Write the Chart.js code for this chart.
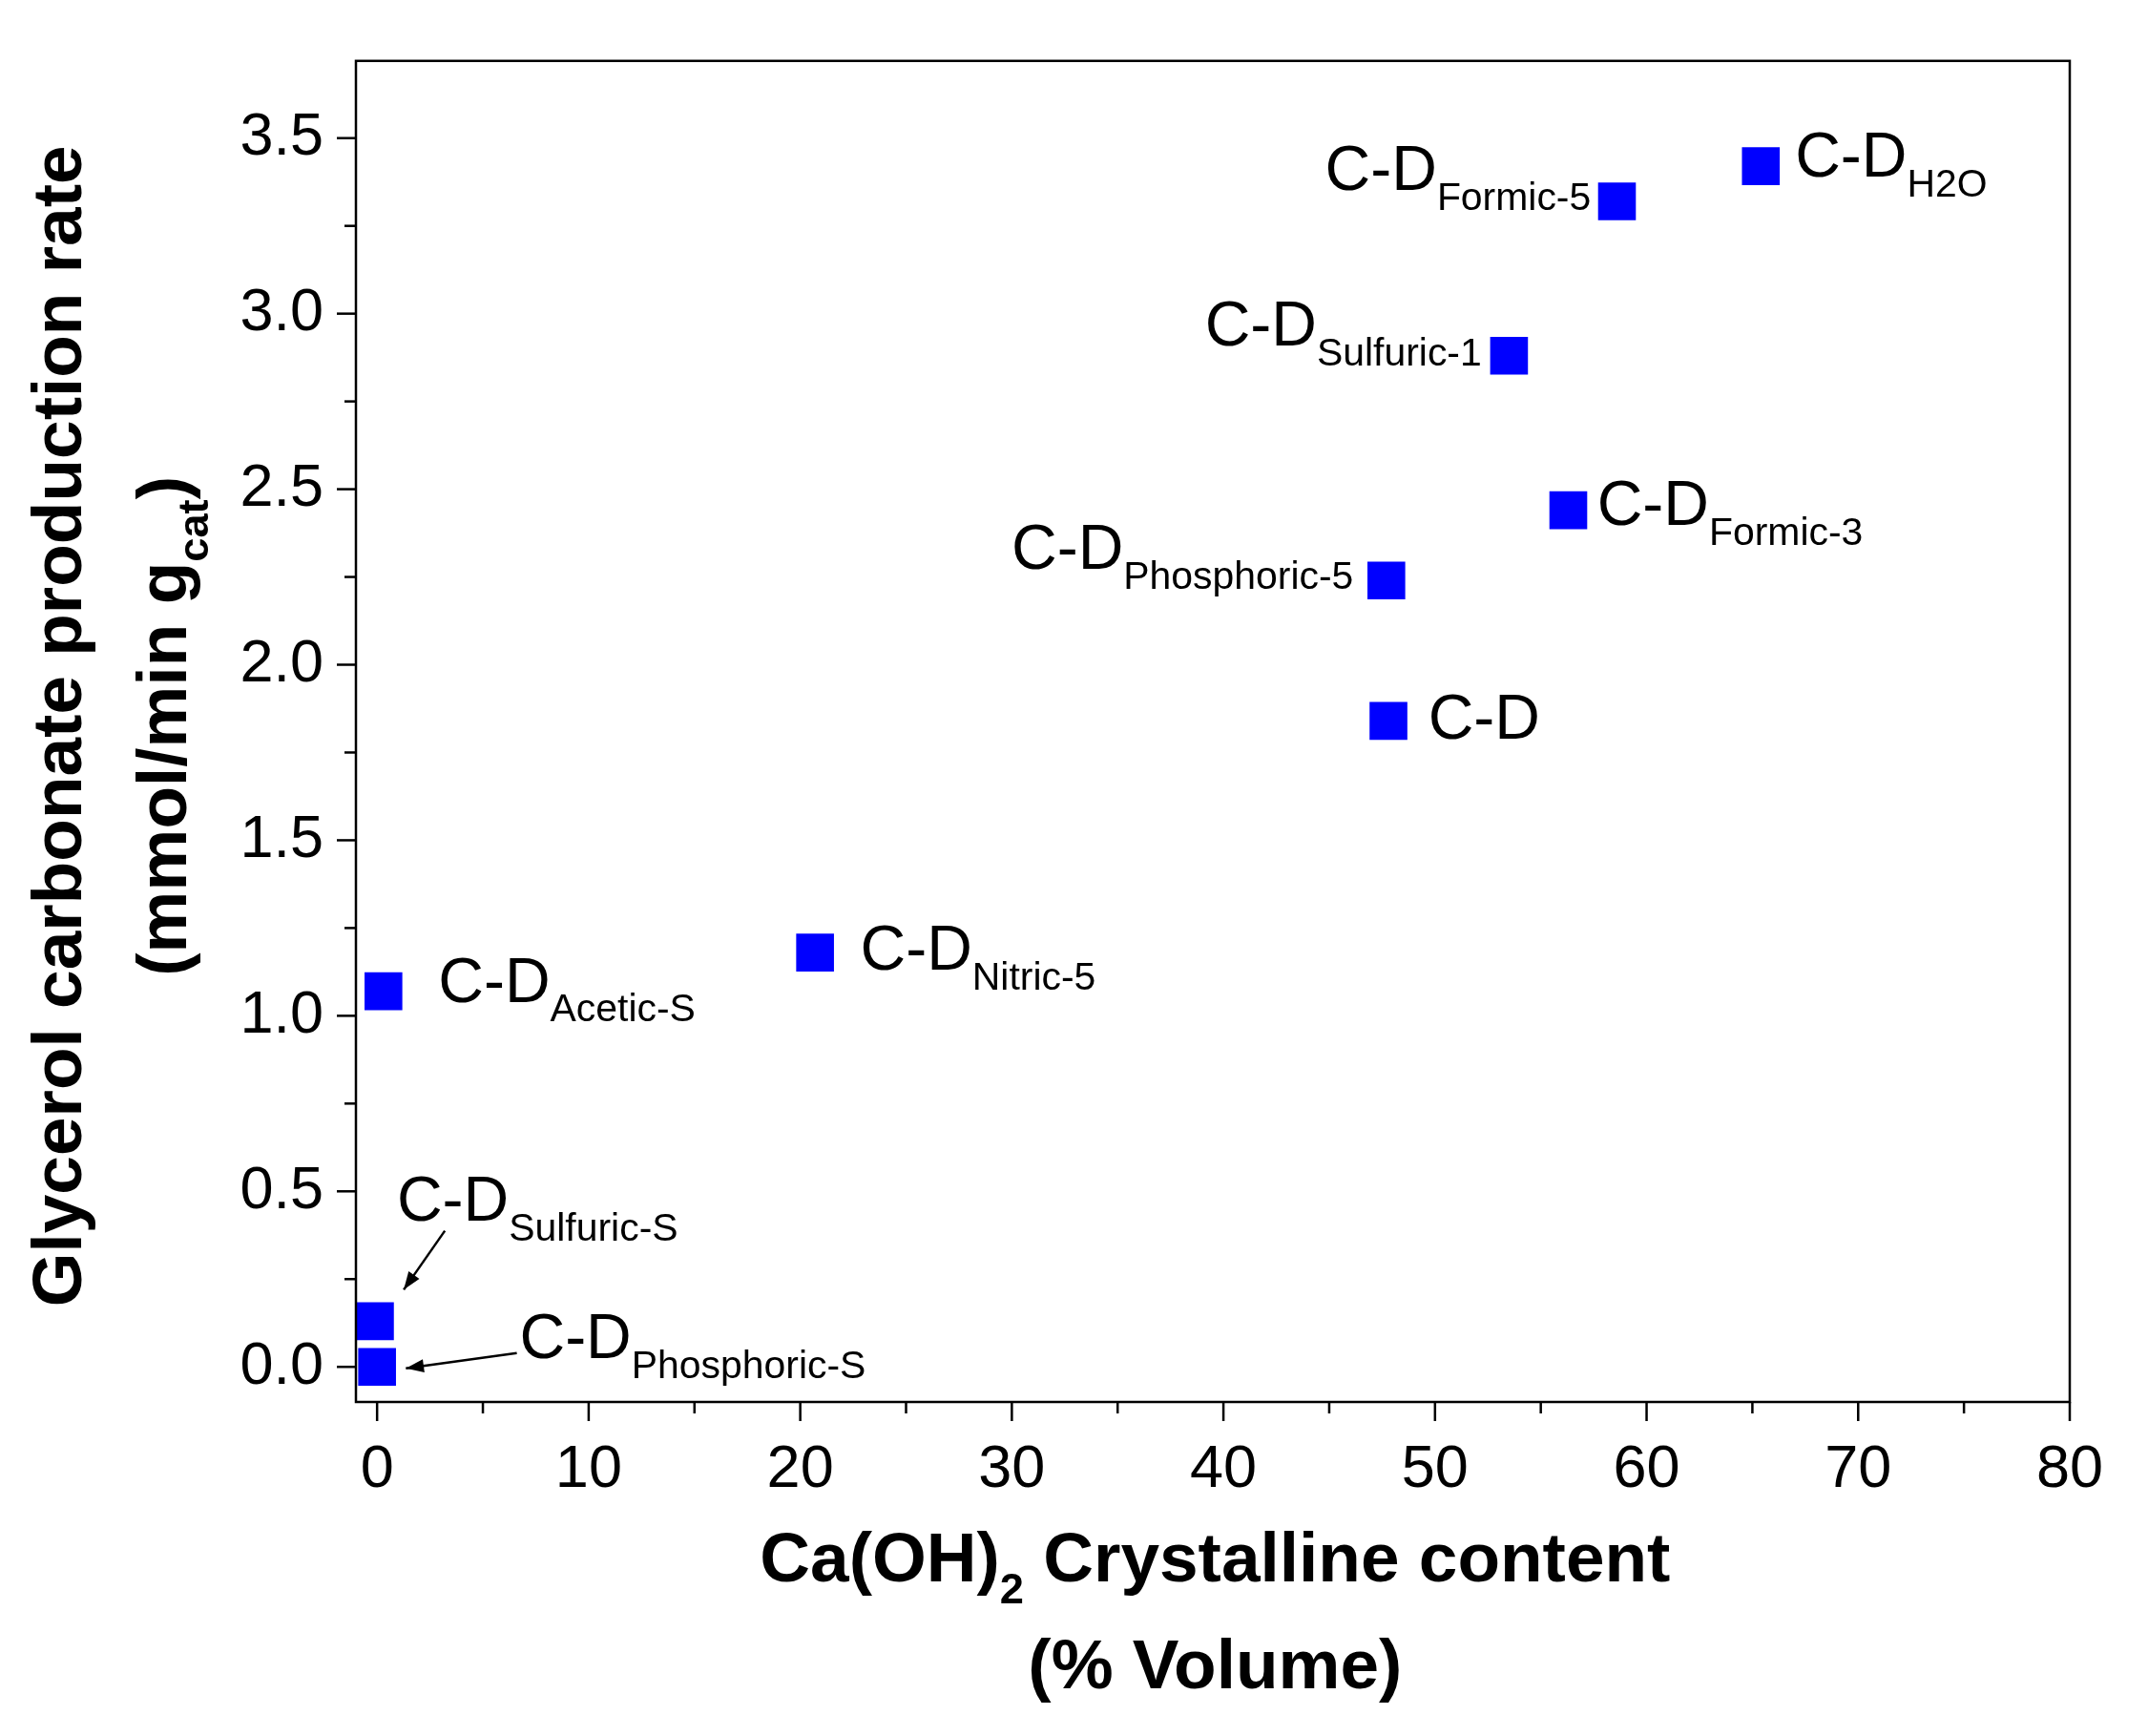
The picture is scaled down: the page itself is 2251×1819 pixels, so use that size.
<!DOCTYPE html>
<html><head><meta charset="utf-8">
<script src="https://cdn.jsdelivr.net/npm/chart.js@4"></script>
<style>html,body{margin:0;padding:0;background:#fff}#w{width:2251px;height:1819px}</style>
</head><body><div id="w"><canvas id="c"></canvas></div>
<script>
const names=["H2O","Formic-5","Sulfuric-1","Formic-3","Phosphoric-5","","Nitric-5","Acetic-S","Sulfuric-S","Phosphoric-S"];
const xVals=[65.4,58.6,53.5,56.3,47.7,47.8,20.7,0.3,-0.1,0.0];
const yVals=[3.42,3.32,2.88,2.44,2.24,1.84,1.18,1.07,0.13,0.0];
const xTicks=[0,10,20,30,40,50,60,70,80];
const yTicks=[0.0,0.5,1.0,1.5,2.0,2.5,3.0,3.5];
const S=1.4356;
const lab=[["r",25,-5],["l",-19,-21],["l",-20,-20],["r",21,-2],["l",-24,-21],["r",29,0],["r",33,0],["r",40,-5],["r",16,-86,[325-274,897-963,295-274,940-963]],["r",104,-19,[378-276,987-997,297-276,998-997]]];
const F='"Liberation Sans", Arial, sans-serif';
function rich(ctx,segs,x,y,size,bold,align){
  const w=segs.map(s=>{ctx.font=(bold?'bold ':'')+(s[1]?size*0.62:size)+'px '+F;return ctx.measureText(s[0]).width;});
  const tot=w.reduce((a,b)=>a+b,0);
  let cx=align==='c'?x-tot/2:align==='l'?x-tot:x;
  ctx.textBaseline='middle';ctx.textAlign='left';ctx.fillStyle='#000';
  segs.forEach((s,i)=>{ctx.font=(bold?'bold ':'')+(s[1]?size*0.62:size)+'px '+F;ctx.fillText(s[0],cx,y+(s[1]?size*0.42:0));cx+=w[i];});
}
const deco={id:'deco',afterDraw(ch){
  const ctx=ch.ctx,a=ch.chartArea,xs=ch.scales.x,ys=ch.scales.y;
  ctx.save();ctx.strokeStyle='#000';ctx.lineWidth=2.5;ctx.strokeRect(a.left,a.top,a.right-a.left,a.bottom-a.top);
  for(let v=0;v<=80;v+=5){const p=xs.getPixelForValue(v),L=v%10?12:20;ctx.beginPath();ctx.moveTo(p,a.bottom);ctx.lineTo(p,a.bottom+L);ctx.stroke();}
  for(let v=0;v<=3.5001;v+=0.25){const p=ys.getPixelForValue(v),L=(Math.round(v*4)%2)?12:20;ctx.beginPath();ctx.moveTo(a.left,p);ctx.lineTo(a.left-L,p);ctx.stroke();}
  const fs=66;
  names.forEach((n,i)=>{
    const px=xs.getPixelForValue(xVals[i]),py=ys.getPixelForValue(yVals[i]);const c=lab[i];
    const segs=[["C-D",0]];if(n)segs.push([n,1]);
    rich(ctx,segs,px+c[1]*S,py+c[2]*S,fs,false,c[0]==='l'?'l':'r');
    if(c[3]){const [x1,y1,x2,y2]=c[3].map(v=>v*S);const X1=px+x1,Y1=py+y1,X2=px+x2,Y2=py+y2;
      ctx.lineWidth=2.5;ctx.beginPath();ctx.moveTo(X1,Y1);ctx.lineTo(X2,Y2);ctx.stroke();
      const ang=Math.atan2(Y2-Y1,X2-X1),h=20;ctx.beginPath();ctx.moveTo(X2,Y2);
      ctx.lineTo(X2-h*Math.cos(ang-0.35),Y2-h*Math.sin(ang-0.35));ctx.lineTo(X2-h*Math.cos(ang+0.35),Y2-h*Math.sin(ang+0.35));ctx.closePath();ctx.fillStyle='#000';ctx.fill();}
  });
  rich(ctx,[["Ca(OH)",0],["2",1],[" Crystalline content",0]],887*S,1140*S,73,true,'c');
  rich(ctx,[["(% Volume)",0]],887*S,1218*S,73,true,'c');
  ctx.translate(45*S,530*S);ctx.rotate(-Math.PI/2);
  rich(ctx,[["Glycerol carbonate production rate",0]],0,0,73,true,'c');
  ctx.restore();ctx.save();ctx.translate(122*S,530*S);ctx.rotate(-Math.PI/2);
  rich(ctx,[["(mmol/min g",0],["cat",1],[")",0]],0,0,73,true,'c');
  ctx.restore();
}};
new Chart(document.getElementById('c'),{type:'scatter',
 data:{datasets:[{data:xVals.map((x,i)=>({x,y:yVals[i]})),pointStyle:'rect',pointRadius:28,pointHoverRadius:28,backgroundColor:'#0000ff',borderColor:'#0000ff',borderWidth:0}]},
 options:{responsive:true,maintainAspectRatio:false,animation:false,events:[],
  layout:{padding:{left:0,right:82,top:50,bottom:0}},
  plugins:{legend:{display:false},tooltip:{enabled:false}},
  scales:{
   x:{type:'linear',min:-1,max:80,afterBuildTicks:s=>{s.ticks=xTicks.map(v=>({value:v}));},afterFit:s=>{s.height=350;},
      grid:{display:false},border:{display:false},ticks:{color:'#000',font:{size:63,family:F},padding:26,maxRotation:0,callback:v=>v}},
   y:{type:'linear',min:-0.1,max:3.72,afterBuildTicks:s=>{s.ticks=yTicks.map(v=>({value:v}));},afterFit:s=>{s.width=373;},
      grid:{display:false},border:{display:false},ticks:{color:'#000',font:{size:63,family:F},padding:26,callback:v=>v.toFixed(1)}}
  }},plugins:[deco]});
</script></body></html>
